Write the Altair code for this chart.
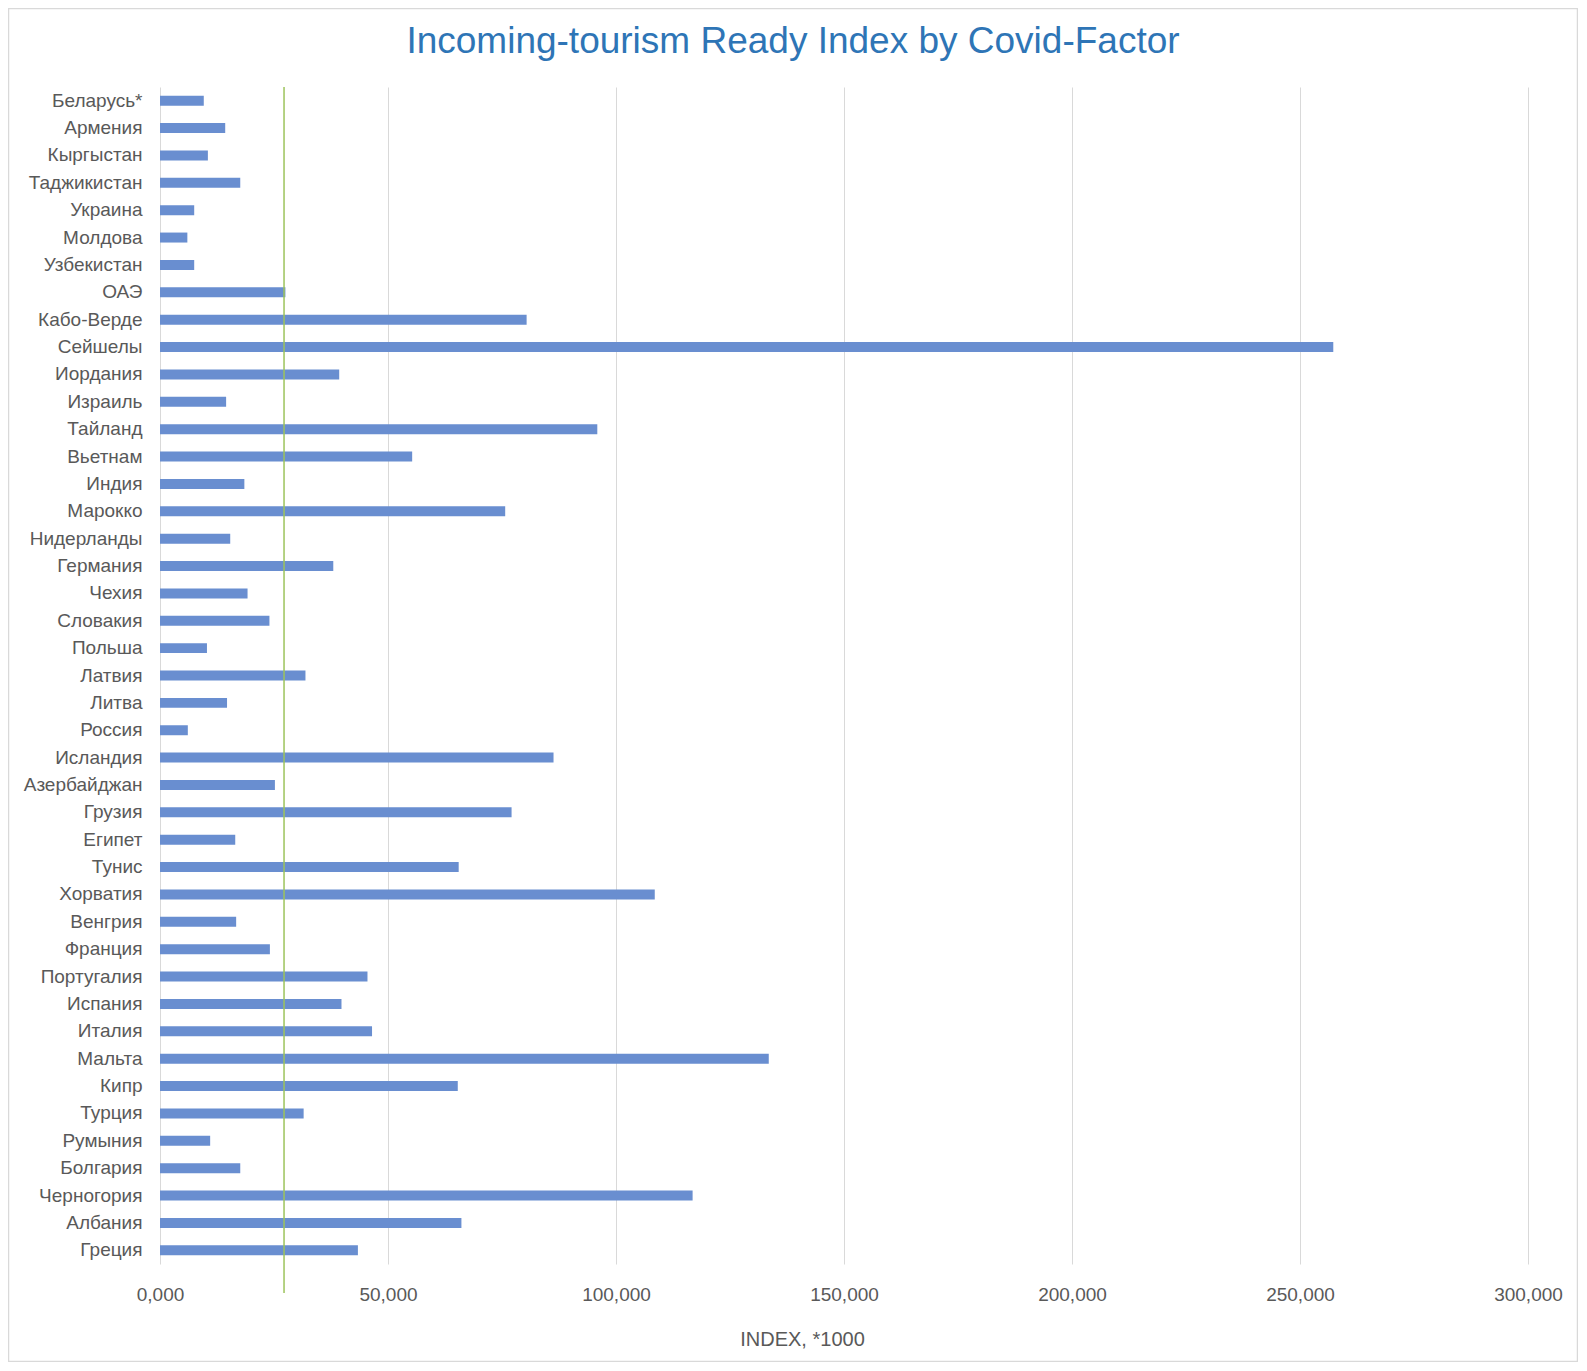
import altair as alt
import pandas as pd

countries = [
    "Беларусь*", "Армения", "Кыргыстан", "Таджикистан", "Украина", "Молдова",
    "Узбекистан", "ОАЭ", "Кабо-Верде", "Сейшелы", "Иордания", "Израиль",
    "Тайланд", "Вьетнам", "Индия", "Марокко", "Нидерланды", "Германия",
    "Чехия", "Словакия", "Польша", "Латвия", "Литва", "Россия", "Исландия",
    "Азербайджан", "Грузия", "Египет", "Тунис", "Хорватия", "Венгрия",
    "Франция", "Португалия", "Испания", "Италия", "Мальта", "Кипр", "Турция",
    "Румыния", "Болгария", "Черногория", "Албания", "Греция",
]
values = [
    9.6, 14.3, 10.5, 17.6, 7.5, 6.0,
    7.5, 27.5, 80.4, 257.3, 39.3, 14.5,
    95.9, 55.3, 18.5, 75.7, 15.4, 38.0,
    19.2, 24.0, 10.3, 31.9, 14.7, 6.1, 86.3,
    25.2, 77.1, 16.5, 65.5, 108.5, 16.7,
    24.1, 45.5, 39.8, 46.5, 133.5, 65.3, 31.5,
    11.0, 17.6, 116.8, 66.1, 43.4,
]
ref_value = [27.2]
x_ticks = [0, 50, 100, 150, 200, 250, 300]

TITLE = "Incoming-tourism Ready Index by Covid-Factor"
X_TITLE = "INDEX, *1000"
FONT = "Liberation Sans"
GRAY = "#595959"

df = pd.DataFrame({"country": countries, "value": values})
ref_df = pd.DataFrame({"ref": ref_value})
frame_df = pd.DataFrame({"k": [0]})

W, H = 1368, 1177

frame = alt.Chart(frame_df).mark_rect(
    fill="transparent", stroke="#D9D9D9", strokeWidth=1.5
).encode(
    x=alt.value(-151.5), x2=alt.value(1417.5),
    y=alt.value(-78.5), y2=alt.value(1274.5),
)

bars = alt.Chart(df).mark_bar(color="#698ED0").encode(
    y=alt.Y(
        "country:N", sort=None,
        scale=alt.Scale(paddingInner=0.635, paddingOuter=0.3175),
        axis=alt.Axis(
            title=None, labelFontSize=19, labelColor=GRAY, labelFont=FONT,
            labelPadding=18, ticks=False, tickSize=0, domain=False, grid=False,
            labelLimit=300,
        ),
    ),
    x=alt.X(
        "value:Q",
        scale=alt.Scale(domain=[0, 300], nice=False, zero=True),
        axis=alt.Axis(
            values=x_ticks,
            labelExpr="replace(format(datum.value, '.3f'), '.', ',')",
            title=X_TITLE, titleFontSize=20, titleFont=FONT, titleColor=GRAY,
            titleFontWeight="normal", titleX=642, titleY=81,
            titleBaseline="alphabetic",
            grid=True, gridColor="#D9D9D9", gridWidth=1,
            domain=False, ticks=False, tickSize=0,
            labelPadding=21.5, labelFontSize=19, labelColor=GRAY, labelFont=FONT,
            labelFlush=False, labelOverlap=False,
        ),
    ),
)

rule = alt.Chart(ref_df).mark_rule(color="#9DC35B", strokeWidth=1.5).encode(
    x=alt.X("ref:Q", title=X_TITLE),
    y=alt.value(0),
    y2=alt.value(1206),
)

chart = alt.layer(frame, bars, rule).properties(
    width=W,
    height=H,
    title=alt.TitleParams(
        TITLE, fontSize=37, font=FONT, color="#2E75B6", fontWeight="normal",
        anchor="middle", frame="bounds", baseline="alphabetic", offset=0, dy=82.5,
    ),
    padding={"left": 152, "top": 79, "right": 50, "bottom": 98},
    autosize=alt.AutoSizeParams(type="none"),
    background="white",
).configure_view(stroke="transparent")

chart.save("out.html", embed_options={"renderer": "svg", "actions": False})
